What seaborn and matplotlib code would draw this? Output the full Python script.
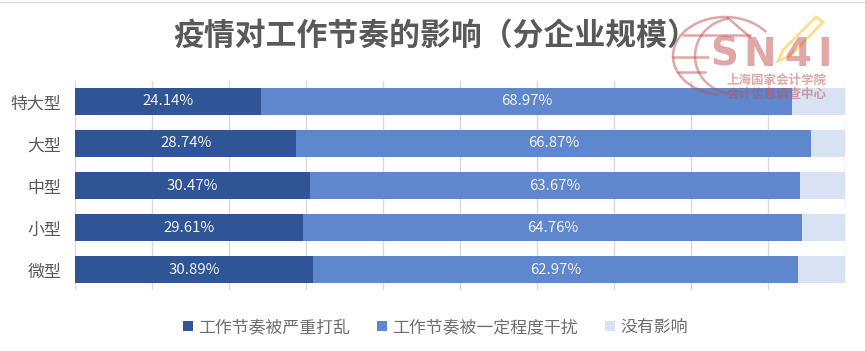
import matplotlib
matplotlib.use("Agg")
import matplotlib.pyplot as plt
import seaborn as sns
import numpy as np
from matplotlib.patches import Arc, Polygon, Patch
from matplotlib.lines import Line2D

categories = ["特大型", "大型", "中型", "小型", "微型"]
severe = [24.14, 28.74, 30.47, 29.61, 30.89]
some = [68.97, 66.87, 63.67, 64.76, 62.97]
none = [6.89, 4.39, 5.86, 5.63, 6.14]
series_names = ["工作节奏被严重打乱", "工作节奏被一定程度干扰", "没有影响"]
title = "疫情对工作节奏的影响（分企业规模）"
colors = ["#2F5597", "#5F87CD", "#D9E2F3"]

sns.set_theme(style="white")
plt.rcParams["font.family"] = ["Noto Sans CJK SC", "DejaVu Sans"]

W, H = 865, 351
fig = plt.figure(figsize=(W / 100, H / 100), dpi=100)
ax = fig.add_axes([75 / W, 1 - 290 / H, 770 / W, 209 / H])

left = np.zeros(len(categories))
for vals, col in zip([severe, some, none], colors):
    sns.barplot(x=vals, y=categories, left=left, color=col, saturation=1,
                width=0.64, ax=ax, orient="h", zorder=3, linewidth=0, legend=False)
    left = left + np.array(vals)

for i, (a, b) in enumerate(zip(severe, some)):
    ax.text(a / 2, i, f"{a:.2f}%", ha="center", va="center", color="#F2F2F2",
            fontsize=10.8, zorder=5)
    ax.text(a + b / 2, i, f"{b:.2f}%", ha="center", va="center", color="#F2F2F2",
            fontsize=10.8, zorder=5)

ax.set_xlim(0, 100)
ax.set_ylim(4.488, -0.488)
ax.set_xticks(np.arange(0, 101, 10))
ax.set_xticklabels([])
ax.grid(axis="x", color="#D9D9D9", lw=1, zorder=0)
ax.grid(axis="y", visible=False)
ax.tick_params(axis="x", length=0)
ax.tick_params(axis="y", length=0, labelsize=12.2, labelcolor="#595959", pad=10)
ax.set_xlabel("")
ax.set_ylabel("")
for s in ax.spines.values():
    s.set_visible(False)

fig.text(173 / W, 1 - 36 / H, title, ha="left", va="center",
         fontsize=22.2, fontweight="bold", color="#595959")

# legend
handles = [Patch(facecolor=c, edgecolor="none") for c in colors]
fig.legend(handles, series_names, loc="center", bbox_to_anchor=(435.5 / W, 1 - 327 / H),
           ncol=3, frameon=False, fontsize=12.2, labelcolor="#6E6E6E",
           handlelength=0.6, handleheight=0.6, handletextpad=0.3,
           columnspacing=1.6)

# watermark overlay in pixel coordinates
ov = fig.add_axes([0, 0, 1, 1], zorder=10)
ov.set_xlim(0, W)
ov.set_ylim(H, 0)
ov.axis("off")
ov.patch.set_alpha(0)
mark = dict(color="#C0504D", alpha=0.5)
ov.add_patch(Arc((725, 56), 104, 78, theta1=100, theta2=330, lw=1.8, **mark))
ov.add_patch(Arc((735, 56), 80, 76, theta1=100, theta2=260, lw=1.8, **mark))
ov.plot([728, 750], [18, 37], lw=1.8, **mark)
ov.plot([683, 750], [35, 35], lw=1.8, **mark)
ov.plot([673, 708], [57, 57], lw=1.8, **mark)
ov.plot([678, 705], [72, 72], lw=1.8, **mark)
for ch, x in zip("SN4I", [724, 760, 798, 825]):
    ov.text(x, 55, ch, ha="center", va="center", fontsize=28, fontweight="bold",
            family="DejaVu Sans", **mark)
ov.add_patch(Polygon([(778, 61), (783, 50), (816, 17), (823, 22), (790, 56)],
                     closed=True, fc="none", ec="#FBDD8C", lw=2))
ov.text(776.5, 80, "上海国家会计学院", ha="center", va="center", fontsize=9, fontweight="bold", **mark)
ov.text(776.5, 94, "会计信息调查中心", ha="center", va="center", fontsize=9, fontweight="bold", **mark)

fig.add_artist(Line2D([0, 1], [1 - 1.5 / H] * 2, color="#D9D9D9", lw=1))
fig.savefig("out.png", dpi=100)
